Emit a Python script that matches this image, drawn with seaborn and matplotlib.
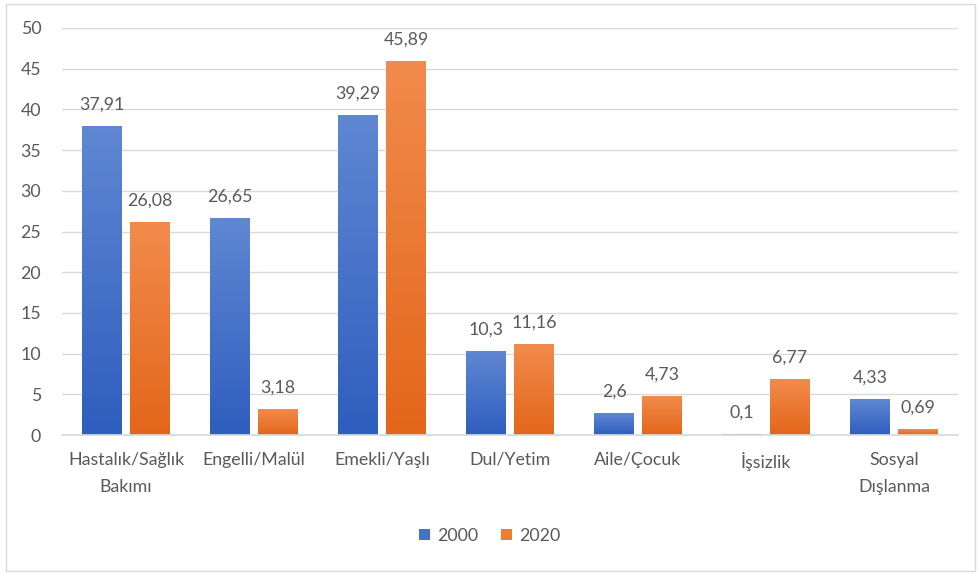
import numpy as np
import pandas as pd
import matplotlib
matplotlib.use("Agg")
import matplotlib.pyplot as plt
import seaborn as sns
from matplotlib.colors import LinearSegmentedColormap
from matplotlib.patches import Rectangle, Patch

categories = ["Hastalık/Sağlık\nBakımı", "Engelli/Malül", "Emekli/Yaşlı",
              "Dul/Yetim", "Aile/Çocuk", "İşsizlik", "Sosyal\nDışlanma"]
years = ["2000", "2020"]
values_2000 = [37.91, 26.65, 39.29, 10.3, 2.6, 0.1, 4.33]
values_2020 = [26.08, 3.18, 45.89, 11.16, 4.73, 6.77, 0.69]
y_ticks = [0, 5, 10, 15, 20, 25, 30, 35, 40, 45, 50]

df = pd.DataFrame({
    "category": categories * 2,
    "year": [years[0]] * len(categories) + [years[1]] * len(categories),
    "value": values_2000 + values_2020,
})

sns.set_theme(style="white")
plt.rcParams["font.family"] = ["Lato", "DejaVu Sans"]
text_color = "#595959"
grid_color = "#D9D9D9"
font_size = 12.8

base_colors = {"2000": "#4472C4", "2020": "#ED7D31"}
gradients = {
    "2000": LinearSegmentedColormap.from_list("blue_fill", ["#2E5EBE", "#5F87D2"]),
    "2020": LinearSegmentedColormap.from_list("orange_fill", ["#E3661A", "#F18B4C"]),
}

fig = plt.figure(figsize=(9.8, 5.73), dpi=100)
ax = fig.add_axes([62 / 980, 1 - 435 / 573, (958 - 62) / 980, (435 - 28) / 573])

sns.barplot(data=df, x="category", y="value", hue="year", hue_order=years,
            palette=base_colors, width=0.75, gap=0.17, errorbar=None,
            legend=False, ax=ax)

# vertical gradient fill for each bar (lighter at the top)
ramp = np.linspace(0, 1, 256).reshape(-1, 1)
for year, container in zip(years, ax.containers):
    for patch in container.patches:
        x, y0 = patch.get_x(), patch.get_y()
        w, h = patch.get_width(), patch.get_height()
        if h <= 0:
            continue
        ax.imshow(ramp, extent=[x, x + w, y0, y0 + h], origin="lower",
                  aspect="auto", cmap=gradients[year], zorder=2,
                  interpolation="bilinear")
        patch.set_facecolor("none")
        patch.set_edgecolor("none")
    labels = [f"{v:g}".replace(".", ",") for v in container.datavalues]
    ax.bar_label(container, labels=labels, padding=10, fontsize=font_size,
                 color=text_color)

ax.set_xlim(-0.5, len(categories) - 0.5)
ax.set_ylim(0, 50)
ax.set_yticks(y_ticks)
ax.set_xlabel("")
ax.set_ylabel("")
ax.yaxis.grid(True, color=grid_color, lw=1)
ax.set_axisbelow(True)
for side in ["top", "right", "left"]:
    ax.spines[side].set_visible(False)
ax.spines["bottom"].set_color(grid_color)
ax.tick_params(axis="both", length=0, labelsize=font_size, colors=text_color)
ax.tick_params(axis="y", pad=15)
ax.tick_params(axis="x", pad=12)
for lbl in ax.get_xticklabels():
    lbl.set_linespacing(1.85)
    lbl.set_verticalalignment("top")

handles = [Patch(facecolor=base_colors[y], edgecolor="none") for y in years]
fig.legend(handles, years, loc="center", bbox_to_anchor=(0.5, 1 - 536 / 573),
           ncol=2, frameon=False, handlelength=0.6, handleheight=0.6,
           handletextpad=0.4, columnspacing=1.3, fontsize=font_size,
           labelcolor=text_color)

fig.patches.append(Rectangle((6 / 980, 2 / 573), 969 / 980, 567 / 573,
                             transform=fig.transFigure, fill=False,
                             edgecolor=grid_color, lw=1))

fig.savefig("out.png", dpi=100, facecolor="white")
